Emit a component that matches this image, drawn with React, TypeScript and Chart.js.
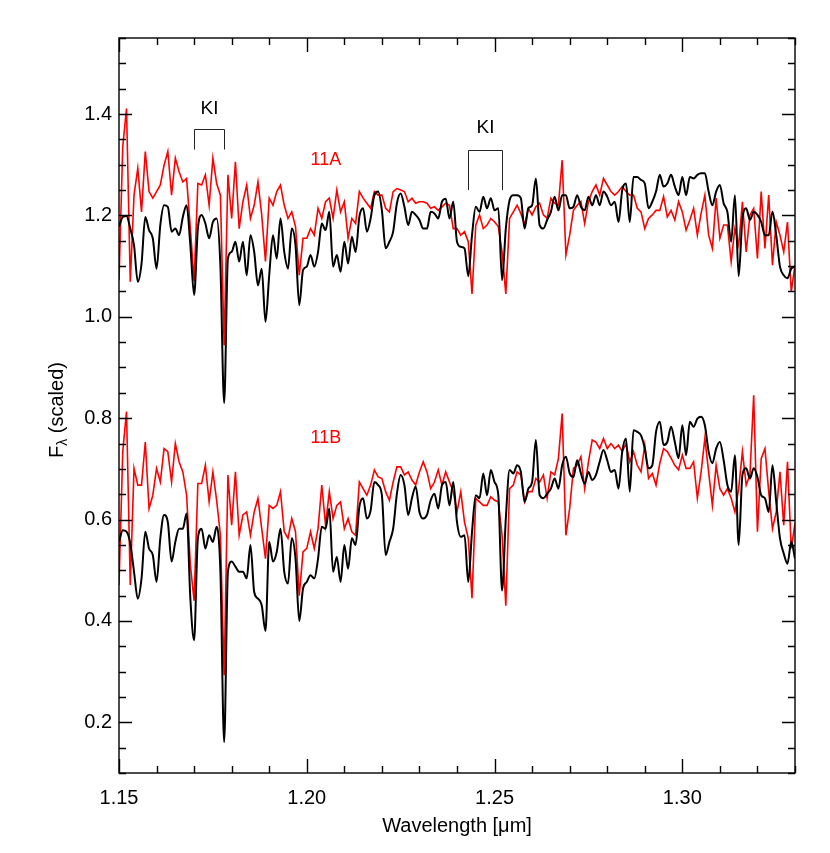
import React, { useEffect, useRef } from "react";
import { Chart, registerables } from "chart.js";

Chart.register(...registerables);

// Wavelength grid (µm): start and spacing of the sampled spectra
const WAVE_START = 1.15;
const WAVE_STEP = 0.001;

// 11A, black spectrum
const A_BLACK = [
  1.178, 1.197, 1.199, 1.174, 1.141, 1.069, 1.105, 1.197, 1.171, 1.155,
  1.095, 1.181, 1.220, 1.217, 1.168, 1.174, 1.161, 1.197, 1.220, 1.141,
  1.043, 1.174, 1.201, 1.184, 1.155, 1.187, 1.194, 1.100, 0.830, 1.115,
  1.128, 1.148, 1.109, 1.148, 1.082, 1.161, 1.128, 1.062, 1.095, 0.990,
  1.082, 1.161, 1.115, 1.194, 1.128, 1.095, 1.174, 1.141, 1.023, 1.092,
  1.099, 1.122, 1.099, 1.128, 1.184, 1.171, 1.207, 1.099, 1.122, 1.089,
  1.148, 1.105, 1.158, 1.128, 1.197, 1.214, 1.168, 1.194, 1.240, 1.247,
  1.210, 1.135, 1.148, 1.168, 1.224, 1.243, 1.217, 1.181, 1.207, 1.201,
  1.191, 1.174, 1.174, 1.207, 1.204, 1.194, 1.227, 1.233, 1.194, 1.227,
  1.148, 1.138, 1.135, 1.080, 1.161, 1.217, 1.207, 1.237, 1.214, 1.234,
  1.210, 1.214, 1.072, 1.174, 1.230, 1.240, 1.240, 1.234, 1.174, 1.214,
  1.220, 1.273, 1.181, 1.174, 1.191, 1.207, 1.237, 1.210, 1.240, 1.240,
  1.214, 1.217, 1.240, 1.217, 1.210, 1.237, 1.220, 1.240, 1.220, 1.247,
  1.237, 1.220, 1.227, 1.187, 1.250, 1.263, 1.187, 1.276, 1.276, 1.270,
  1.263, 1.214, 1.227, 1.247, 1.280, 1.257, 1.263, 1.280, 1.257, 1.240,
  1.276, 1.240, 1.276, 1.273, 1.280, 1.283, 1.283, 1.247, 1.220, 1.247,
  1.260, 1.224, 1.207, 1.148, 1.240, 1.080, 1.194, 1.214, 1.191, 1.207,
  1.201, 1.187, 1.161, 1.161, 1.207, 1.161, 1.099, 1.082, 1.076, 1.095, 1.099,
];

// 11A, red spectrum
const A_RED = [
  1.072, 1.336, 1.411, 1.069, 1.240, 1.293, 1.207, 1.326, 1.247, 1.234,
  1.247, 1.260, 1.299, 1.326, 1.240, 1.313, 1.286, 1.266, 1.273, 1.174,
  1.070, 1.263, 1.260, 1.280, 1.220, 1.313, 1.263, 1.240, 0.944, 1.280,
  1.194, 1.306, 1.174, 1.227, 1.260, 1.194, 1.220, 1.266, 1.201, 1.109,
  1.234, 1.220, 1.247, 1.260, 1.220, 1.194, 1.207, 1.178, 1.082, 1.155,
  1.155, 1.174, 1.161, 1.214, 1.194, 1.227, 1.234, 1.194, 1.250, 1.207,
  1.227, 1.155, 1.194, 1.184, 1.247, 1.234, 1.224, 1.214, 1.247, 1.240,
  1.240, 1.214, 1.207, 1.247, 1.253, 1.250, 1.247, 1.227, 1.234, 1.224,
  1.227, 1.227, 1.224, 1.214, 1.217, 1.210, 1.217, 1.224, 1.220, 1.174,
  1.174, 1.161, 1.168, 1.148, 1.045, 1.181, 1.201, 1.174, 1.181, 1.194,
  1.187, 1.178, 1.128, 1.045, 1.194, 1.207, 1.220, 1.204, 1.181, 1.214,
  1.201, 1.217, 1.224, 1.201, 1.194, 1.234, 1.224, 1.220, 1.309, 1.122,
  1.161, 1.210, 1.220, 1.227, 1.184, 1.227, 1.247, 1.260, 1.240, 1.273,
  1.260, 1.247, 1.240, 1.247, 1.257, 1.247, 1.240, 1.240, 1.214, 1.207,
  1.174, 1.194, 1.201, 1.210, 1.210, 1.237, 1.197, 1.210, 1.191, 1.227,
  1.207, 1.171, 1.191, 1.214, 1.161, 1.204, 1.240, 1.161, 1.135, 1.234,
  1.155, 1.181, 1.181, 1.109, 1.174, 1.141, 1.227, 1.128, 1.201, 1.214,
  1.115, 1.247, 1.135, 1.240, 1.102, 1.187, 1.161, 1.128, 1.187, 1.049, 1.102,
];

// 11B, black spectrum
const B_BLACK = [
  0.556, 0.579, 0.576, 0.553, 0.497, 0.444, 0.484, 0.576, 0.543, 0.530,
  0.477, 0.563, 0.609, 0.595, 0.517, 0.556, 0.582, 0.582, 0.612, 0.444,
  0.362, 0.563, 0.582, 0.543, 0.569, 0.556, 0.586, 0.497, 0.161, 0.497,
  0.517, 0.507, 0.497, 0.497, 0.484, 0.550, 0.457, 0.444, 0.431, 0.380,
  0.556, 0.517, 0.536, 0.582, 0.497, 0.474, 0.563, 0.523, 0.400, 0.464,
  0.477, 0.490, 0.484, 0.523, 0.586, 0.582, 0.622, 0.497, 0.526, 0.477,
  0.550, 0.503, 0.563, 0.550, 0.625, 0.642, 0.602, 0.618, 0.674, 0.668,
  0.648, 0.530, 0.556, 0.582, 0.651, 0.688, 0.668, 0.609, 0.642, 0.665,
  0.615, 0.602, 0.609, 0.638, 0.651, 0.622, 0.668, 0.674, 0.628, 0.674,
  0.595, 0.566, 0.569, 0.477, 0.576, 0.648, 0.642, 0.691, 0.648, 0.698,
  0.674, 0.648, 0.460, 0.602, 0.698, 0.691, 0.707, 0.694, 0.635, 0.661,
  0.674, 0.757, 0.648, 0.642, 0.651, 0.661, 0.681, 0.661, 0.707, 0.724,
  0.691, 0.684, 0.717, 0.691, 0.671, 0.694, 0.678, 0.688, 0.714, 0.737,
  0.717, 0.694, 0.698, 0.661, 0.734, 0.760, 0.655, 0.776, 0.773, 0.766,
  0.740, 0.701, 0.707, 0.773, 0.793, 0.747, 0.753, 0.783, 0.753, 0.721,
  0.786, 0.727, 0.793, 0.783, 0.799, 0.803, 0.786, 0.734, 0.711, 0.740,
  0.753, 0.717, 0.668, 0.655, 0.727, 0.550, 0.688, 0.701, 0.681, 0.701,
  0.684, 0.648, 0.642, 0.615, 0.707, 0.635, 0.563, 0.533, 0.513, 0.556, 0.523,
];

// 11B, red spectrum
const B_RED = [
  0.471, 0.734, 0.813, 0.471, 0.701, 0.668, 0.668, 0.753, 0.622, 0.648,
  0.701, 0.674, 0.740, 0.734, 0.674, 0.750, 0.714, 0.694, 0.648, 0.510,
  0.440, 0.671, 0.671, 0.707, 0.635, 0.694, 0.638, 0.569, 0.293, 0.688,
  0.589, 0.694, 0.569, 0.609, 0.615, 0.569, 0.615, 0.642, 0.582, 0.523,
  0.628, 0.622, 0.628, 0.655, 0.576, 0.563, 0.602, 0.576, 0.450, 0.536,
  0.543, 0.576, 0.543, 0.582, 0.668, 0.589, 0.655, 0.602, 0.628, 0.635,
  0.582, 0.602, 0.576, 0.569, 0.674, 0.661, 0.648, 0.668, 0.698, 0.684,
  0.681, 0.655, 0.638, 0.674, 0.704, 0.704, 0.688, 0.694, 0.678, 0.668,
  0.694, 0.714, 0.694, 0.661, 0.674, 0.698, 0.668, 0.694, 0.674, 0.655,
  0.615, 0.655, 0.595, 0.563, 0.445, 0.642, 0.635, 0.628, 0.628, 0.645,
  0.638, 0.635, 0.569, 0.430, 0.661, 0.668, 0.694, 0.688, 0.635, 0.655,
  0.655, 0.681, 0.674, 0.688, 0.642, 0.694, 0.688, 0.720, 0.809, 0.569,
  0.622, 0.701, 0.707, 0.724, 0.661, 0.714, 0.757, 0.753, 0.740, 0.760,
  0.740, 0.750, 0.740, 0.747, 0.734, 0.750, 0.714, 0.734, 0.707, 0.694,
  0.747, 0.681, 0.691, 0.668, 0.711, 0.740, 0.734, 0.721, 0.707, 0.698,
  0.727, 0.701, 0.701, 0.714, 0.642, 0.694, 0.760, 0.694, 0.628, 0.707,
  0.661, 0.648, 0.661, 0.642, 0.615, 0.661, 0.734, 0.668, 0.688, 0.845,
  0.576, 0.720, 0.740, 0.655, 0.582, 0.615, 0.694, 0.589, 0.714, 0.543, 0.592,
];

// Axis ticks
const X_MIN = 1.15;
const X_MAX = 1.33;
const Y_MIN = 0.1;
const Y_MAX = 1.55;
const X_TICKS = [1.15, 1.2, 1.25, 1.3];
const X_MINOR_STEP = 0.01;
const Y_TICKS = [0.2, 0.4, 0.6, 0.8, 1.0, 1.2, 1.4];
const Y_MINOR_STEP = 0.05;

// Line identifications (K I doublets) and panel labels
const KI_MARKS = [
  { label: "KI", x1: 1.17, x2: 1.178, yTop: 1.37, yBottom: 1.33, yText: 1.41 },
  { label: "KI", x1: 1.2429, x2: 1.252, yTop: 1.33, yBottom: 1.25, yText: 1.372 },
];
const PANEL_LABELS = [
  { text: "11A", x: 1.2051, y: 1.31 },
  { text: "11B", x: 1.2051, y: 0.761 },
];

const FONT = '"Liberation Sans", Arial, Helvetica, sans-serif';

const toPoints = (vals: number[]) =>
  vals.map((v, i) => ({ x: +(WAVE_START + i * WAVE_STEP).toFixed(4), y: v }));

const idlFrame = {
  id: "idlFrame",
  afterDatasetsDraw(chart: any) {
    const { ctx, chartArea: a, scales } = chart;
    const xs = scales.x;
    const ys = scales.y;
    ctx.save();
    ctx.strokeStyle = "#000";
    ctx.lineWidth = 1.4;
    ctx.strokeRect(a.left, a.top, a.right - a.left, a.bottom - a.top);

    ctx.beginPath();
    const nx = Math.round((X_MAX - X_MIN) / X_MINOR_STEP);
    for (let i = 0; i <= nx; i++) {
      const v = X_MIN + i * X_MINOR_STEP;
      const major = X_TICKS.some((t) => Math.abs(t - v) < 1e-6);
      const len = major ? 14 : 7;
      const px = Math.round(xs.getPixelForValue(v)) + 0.5;
      ctx.moveTo(px, a.bottom);
      ctx.lineTo(px, a.bottom - len);
      ctx.moveTo(px, a.top);
      ctx.lineTo(px, a.top + len);
    }
    const ny = Math.round((Y_MAX - Y_MIN) / Y_MINOR_STEP);
    for (let i = 0; i <= ny; i++) {
      const v = Y_MIN + i * Y_MINOR_STEP;
      const major = Y_TICKS.some((t) => Math.abs(t - v) < 1e-6);
      const len = major ? 13 : 7;
      const py = Math.round(ys.getPixelForValue(v)) + 0.5;
      ctx.moveTo(a.left, py);
      ctx.lineTo(a.left + len, py);
      ctx.moveTo(a.right, py);
      ctx.lineTo(a.right - len, py);
    }
    ctx.stroke();

    ctx.lineWidth = 1;
    ctx.strokeStyle = "#222";
    ctx.fillStyle = "#000";
    ctx.font = `19px ${FONT}`;
    ctx.textAlign = "center";
    ctx.textBaseline = "middle";
    for (const m of KI_MARKS) {
      const x1 = Math.round(xs.getPixelForValue(m.x1)) + 0.5;
      const x2 = Math.round(xs.getPixelForValue(m.x2)) + 0.5;
      const yt = Math.round(ys.getPixelForValue(m.yTop)) + 0.5;
      const yb = ys.getPixelForValue(m.yBottom);
      ctx.beginPath();
      ctx.moveTo(x1, yb);
      ctx.lineTo(x1, yt);
      ctx.lineTo(x2, yt);
      ctx.lineTo(x2, yb);
      ctx.stroke();
      ctx.fillText(m.label, (x1 + x2) / 2, ys.getPixelForValue(m.yText));
    }

    ctx.fillStyle = "#ff0000";
    ctx.font = `18px ${FONT}`;
    for (const p of PANEL_LABELS) {
      ctx.fillText(p.text, xs.getPixelForValue(p.x), ys.getPixelForValue(p.y));
    }

    ctx.fillStyle = "#000";
    ctx.font = `20px ${FONT}`;
    ctx.fillText("Wavelength [\u03bcm]", (a.left + a.right) / 2, 826);

    ctx.save();
    ctx.translate(57, 410);
    ctx.rotate(-Math.PI / 2);
    ctx.textAlign = "left";
    ctx.font = `20px ${FONT}`;
    const fW = ctx.measureText("F").width;
    ctx.font = `14px ${FONT}`;
    const lW = ctx.measureText("\u03bb").width;
    ctx.font = `20px ${FONT}`;
    const restW = ctx.measureText(" (scaled)").width;
    const total = fW + lW + restW;
    let cx = -total / 2;
    ctx.fillText("F", cx, 0);
    cx += fW;
    ctx.font = `14px ${FONT}`;
    ctx.fillText("\u03bb", cx, 6);
    cx += lW;
    ctx.font = `20px ${FONT}`;
    ctx.fillText(" (scaled)", cx, 0);
    ctx.restore();

    ctx.restore();
  },
};

export default function App() {
  const canvasRef = useRef<HTMLCanvasElement | null>(null);

  useEffect(() => {
    document.body.style.margin = "0";
    const canvas = canvasRef.current;
    if (!canvas) return;
    const chart = new Chart(canvas, {
      type: "line",
      data: {
        datasets: [
          { label: "11A black", data: toPoints(A_BLACK), borderColor: "#000000", borderWidth: 2, order: 0, cubicInterpolationMode: "monotone" },
          { label: "11B black", data: toPoints(B_BLACK), borderColor: "#000000", borderWidth: 2, order: 0, cubicInterpolationMode: "monotone" },
          { label: "11A red", data: toPoints(A_RED), borderColor: "#ff0000", borderWidth: 1.6, order: 1 },
          { label: "11B red", data: toPoints(B_RED), borderColor: "#ff0000", borderWidth: 1.6, order: 1 },
        ],
      },
      options: {
        animation: false,
        responsive: false,
        devicePixelRatio: 1,
        layout: { padding: { top: 38, right: 35, left: 0, bottom: 0 } },
        elements: { point: { radius: 0 }, line: { tension: 0, fill: false } },
        plugins: { legend: { display: false }, tooltip: { enabled: false } },
        scales: {
          x: {
            type: "linear",
            min: X_MIN,
            max: X_MAX,
            grid: { display: false, drawTicks: false },
            border: { display: false },
            ticks: {
              padding: 13,
              color: "#000",
              font: { family: FONT, size: 20 },
              callback: (v: any) => Number(v).toFixed(2),
            },
            afterBuildTicks: (s: any) => {
              s.ticks = X_TICKS.map((v) => ({ value: v }));
            },
            afterFit: (s: any) => {
              s.height = 80;
            },
          },
          y: {
            type: "linear",
            min: Y_MIN,
            max: Y_MAX,
            grid: { display: false, drawTicks: false },
            border: { display: false },
            ticks: {
              padding: 7,
              color: "#000",
              font: { family: FONT, size: 20 },
              callback: (v: any) => Number(v).toFixed(1),
            },
            afterBuildTicks: (s: any) => {
              s.ticks = Y_TICKS.map((v) => ({ value: v }));
            },
            afterFit: (s: any) => {
              s.width = 119;
            },
          },
        },
      },
      plugins: [idlFrame],
    });
    return () => chart.destroy();
  }, []);

  return (
    <div style={{ width: 830, height: 853, background: "#fff" }}>
      <canvas ref={canvasRef} width={830} height={853} style={{ display: "block" }} />
    </div>
  );
}
